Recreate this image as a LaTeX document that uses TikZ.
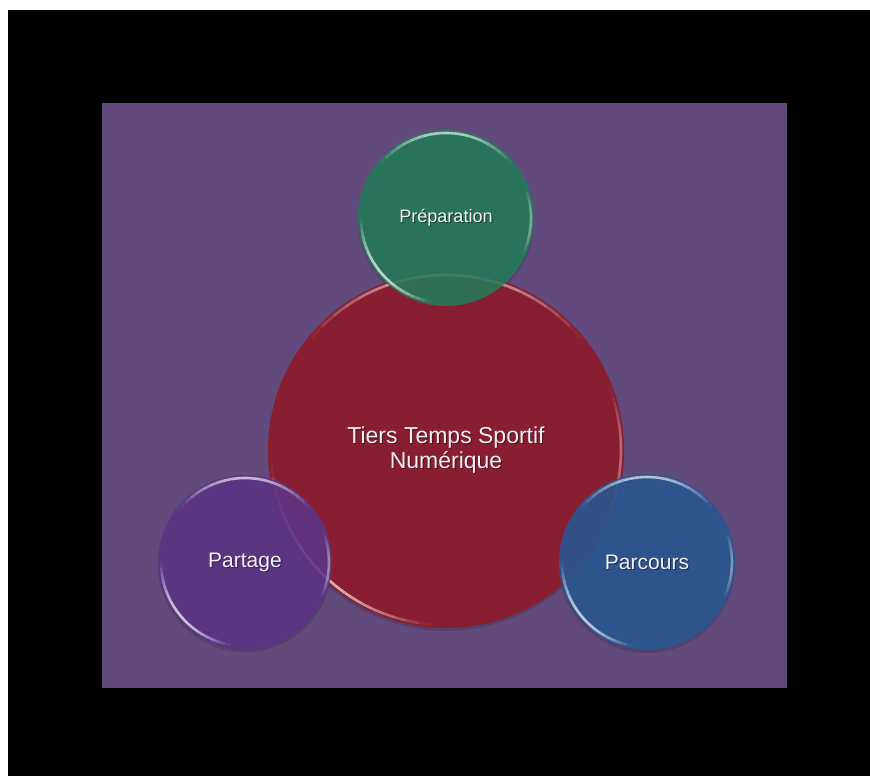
\documentclass[tikz,border=0pt]{standalone}
\usepackage{fontspec}
\setmainfont{Liberation Sans}
\begin{document}
\definecolor{pagebg}{HTML}{624B7C}
\definecolor{corered}{HTML}{8A1E31}
\definecolor{prepgreen}{HTML}{247A5A}
\definecolor{sharepurple}{HTML}{5D3486}
\definecolor{routeblue}{HTML}{285792}
\definecolor{labelwhite}{HTML}{F4F1F4}
% tapered highlight along a rim: centre, radius, start angle, end angle, peak opacity
\newcommand\rimgloss[5]{%
  \foreach \k in {0,...,19}{%
    \pgfmathsetmacro\aa{#3+(#4-#3)*\k/20}%
    \pgfmathsetmacro\ab{#3+(#4-#3)*(\k+1)/20}%
    \pgfmathsetmacro\op{#5*sin(180*(\k+0.5)/20)}%
    \draw[glossline, draw opacity=\op] (#1) ++(\aa:#2) arc[start angle=\aa, end angle=\ab, radius=#2];
  }%
}
\begin{tikzpicture}[x=1pt,y=1pt,
  bubble/.style={circle, inner sep=0pt, text=labelwhite, align=center},
  shadowdisc/.style={fill=black, opacity=0.14},
  glossline/.style={draw=white, line width=2.6pt, line cap=butt},
  textshadow/.style={text=black, opacity=0.45, align=center}]
  % canvas
  \useasboundingbox (0,0) rectangle (870,776);
  \fill[white] (0,0) rectangle (870,776);
  \fill[black] (8,0) rectangle (870,766);
  \fill[pagebg] (102,88) rectangle (787,673);

  % soft shadows under the discs
  \fill[shadowdisc] (446,323) circle[radius=178];
  \fill[shadowdisc] (446,555) circle[radius=88];
  \fill[shadowdisc] (245,211) circle[radius=87];
  \fill[shadowdisc] (647,211) circle[radius=88];

  % central disc
  \node[bubble, fill=corered, minimum size=356pt] (core) at (446,326) {};
  \rimgloss{core.center}{175}{40}{140}{0.6}
  \rimgloss{core.center}{175}{185}{265}{0.65}
  \rimgloss{core.center}{175}{-25}{20}{0.35}

  % satellite discs, translucent over the centre
  \node[bubble, fill=prepgreen, fill opacity=0.88, minimum size=176pt] (prep) at (446,558) {};
  \node[bubble, fill=sharepurple, fill opacity=0.88, minimum size=174pt] (share) at (245,214) {};
  \node[bubble, fill=routeblue, fill opacity=0.88, minimum size=176pt] (route) at (647,214) {};

  % glossy rims
  \foreach \d/\r in {prep/85, share/84, route/85}{
    \rimgloss{\d.center}{\r}{40}{140}{0.65}
    \rimgloss{\d.center}{\r}{180}{260}{0.7}
    \rimgloss{\d.center}{\r}{-25}{20}{0.4}
  }

  % labels
  \node[textshadow, font=\fontsize{23}{25}\selectfont] (coreshade) at ([shift={(1,-1)}]core.center) {Tiers Temps Sportif\\Numérique};
  \node[text=labelwhite, align=center, font=\fontsize{23}{25}\selectfont] (corelabel) at (core.center) {Tiers Temps Sportif\\Numérique};
  \node[textshadow, font=\fontsize{18}{20}\selectfont] (prepshade) at ([shift={(1,-1)}]prep.center) {Préparation};
  \node[text=labelwhite, font=\fontsize{18}{20}\selectfont] (preplabel) at (prep.center) {Préparation};
  \node[textshadow, font=\fontsize{21}{23}\selectfont] (shareshade) at ([shift={(1,-1)}]share.center) {Partage};
  \node[text=labelwhite, font=\fontsize{21}{23}\selectfont] (sharelabel) at (share.center) {Partage};
  \node[textshadow, font=\fontsize{21}{23}\selectfont] (routeshade) at ([shift={(1,-1)}]route.center) {Parcours};
  \node[text=labelwhite, font=\fontsize{21}{23}\selectfont] (routelabel) at (route.center) {Parcours};
\end{tikzpicture}
\end{document}
